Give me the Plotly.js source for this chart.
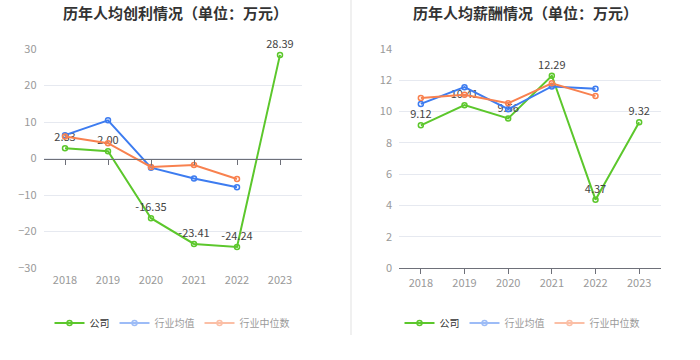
<!DOCTYPE html>
<html><head><meta charset="utf-8">
<script src="https://cdn.plot.ly/plotly-3.0.1.min.js"></script>
<style>html,body{margin:0;padding:0;background:#fff}#c{width:700px;height:360px}</style>
</head><body><div id="c"></div>
<script>
const years = ['2018','2019','2020','2021','2022','2023'];
const seriesNames = ['公司','行业均值','行业中位数'];
const profitCompany = [2.83, 2.00, -16.35, -23.41, -24.24, 28.39];
const profitAvg = [6.4, 10.45, -2.5, -5.5, -7.9, null];
const profitMedian = [6.0, 4.2, -2.3, -1.8, -5.6, null];
const salaryCompany = [9.12, 10.41, 9.56, 12.29, 4.37, 9.32];
const salaryAvg = [10.49, 11.56, 10.15, 11.61, 11.46, null];
const salaryMedian = [10.87, 11.07, 10.53, 11.81, 10.99, null];
const titles = ['历年人均创利情况（单位：万元）','历年人均薪酬情况（单位：万元）'];

const colors = ['#5cc72c','#3d7cf0','#f8814f'];
const FONT = '"Noto Sans CJK SC", "Microsoft YaHei", sans-serif';

function mk(x, y, name, color, xa, ya, legend, opts) {
  return Object.assign({
    type:'scatter', mode:'lines+markers', x:x, y:y, name:name,
    xaxis:xa, yaxis:ya, legend:legend,
    line:{color:color, width:2},
    marker:{symbol:'circle-open', size:5, color:color, line:{width:1.5, color:color}},
    connectgaps:false, cliponaxis:false, hoverinfo:'x+y+name'
  }, opts||{});
}
function lbl(v){ return v==null? '' : v.toFixed(2); }

const data = [];
data.push(mk(years, profitCompany, seriesNames[0], colors[0], 'x', 'y', 'legend',
  {mode:'lines+markers+text', text:profitCompany.map(lbl), textposition:'top center',
   textfont:{size:11, color:'#444', family:FONT}}));
data.push(mk(years, profitAvg, seriesNames[1], colors[1], 'x', 'y', 'legend', {showlegend:false}));
data.push(mk(years, profitMedian, seriesNames[2], colors[2], 'x', 'y', 'legend', {showlegend:false}));
data.push(mk(years, profitAvg, seriesNames[1], colors[1], 'x', 'y', 'legend', {visible:'legendonly'}));
data.push(mk(years, profitMedian, seriesNames[2], colors[2], 'x', 'y', 'legend', {visible:'legendonly'}));
data.push(mk(years, salaryCompany, seriesNames[0], colors[0], 'x2', 'y2', 'legend2',
  {mode:'lines+markers+text', text:salaryCompany.map(lbl), textposition:'top center',
   textfont:{size:11, color:'#444', family:FONT}}));
data.push(mk(years, salaryAvg, seriesNames[1], colors[1], 'x2', 'y2', 'legend2', {showlegend:false}));
data.push(mk(years, salaryMedian, seriesNames[2], colors[2], 'x2', 'y2', 'legend2', {showlegend:false}));
data.push(mk(years, salaryAvg, seriesNames[1], colors[1], 'x2', 'y2', 'legend2', {visible:'legendonly'}));
data.push(mk(years, salaryMedian, seriesNames[2], colors[2], 'x2', 'y2', 'legend2', {visible:'legendonly'}));
data.push({type:'scatter', mode:'markers', x:[0], y:[0], xaxis:'x3', yaxis:'y',
  marker:{opacity:0, size:1}, showlegend:false, hoverinfo:'skip'});

const yDom = [92/360, 311/360];
const tickFont = {size:11, color:'#999', family:FONT};
const legendFont = {size:10, color:'#333', family:FONT};

const layout = {
  width:700, height:360, margin:{l:0,r:0,t:0,b:0},
  paper_bgcolor:'#fff', plot_bgcolor:'#fff',
  font:{family:FONT},
  xaxis:{domain:[43.5/700, 301.5/700], type:'category', range:[-0.5,5.5],
    showgrid:false, zeroline:false, showline:false, ticks:'', tickfont:tickFont, anchor:'y', ticklabelstandoff:4},
  xaxis3:{domain:[43.5/700, 301.5/700], overlaying:'x', anchor:'free', position:(360-159)/360,
    range:[-0.5,5.5], tickvals:[0,1,2,3,4,5], showticklabels:false, ticks:'outside', ticklen:5,
    tickcolor:'#6e7079', showline:true, linecolor:'#6e7079', linewidth:1, showgrid:false, zeroline:false, fixedrange:true},
  yaxis:{domain:yDom, range:[-30,30], dtick:10, tick0:0, showgrid:true, gridcolor:'#e6e9f0',
    zeroline:false, showline:false, ticks:'', tickfont:tickFont, anchor:'x', ticklabelstandoff:6},
  xaxis2:{domain:[399/700, 661/700], type:'category', range:[-0.5,5.5],
    showgrid:false, zeroline:false, showline:true, linecolor:'#6e7079', ticks:'outside', ticklen:5,
    tickcolor:'#6e7079', tickfont:tickFont, anchor:'y2'},
  yaxis2:{domain:yDom, range:[0,14], dtick:2, tick0:0, showgrid:true, gridcolor:'#e6e9f0',
    zeroline:false, showline:false, ticks:'', tickfont:tickFont, anchor:'x2', ticklabelstandoff:6},
  legend:{orientation:'h', x:172/700, xanchor:'center', y:(360-323)/360, yanchor:'middle',
    font:legendFont, itemclick:false, itemdoubleclick:false, bgcolor:'rgba(0,0,0,0)', itemwidth:30},
  legend2:{orientation:'h', x:522/700, xanchor:'center', y:(360-323)/360, yanchor:'middle',
    font:legendFont, itemclick:false, itemdoubleclick:false, bgcolor:'rgba(0,0,0,0)', itemwidth:30},
  annotations:[
    {text:'<b>'+titles[0]+'</b>', xref:'paper', yref:'paper', x:175/700, y:(360-13)/360,
     xanchor:'center', yanchor:'middle', showarrow:false, font:{size:15, color:'#333', family:FONT}},
    {text:'<b>'+titles[1]+'</b>', xref:'paper', yref:'paper', x:525/700, y:(360-13)/360,
     xanchor:'center', yanchor:'middle', showarrow:false, font:{size:15, color:'#333', family:FONT}}
  ],
  shapes:[
    {type:'line', xref:'paper', yref:'paper', x0:351/700, x1:351/700, y0:(360-335)/360, y1:1,
     line:{color:'#f0f0f0', width:2}}
  ]
};
Plotly.newPlot('c', data, layout, {displayModeBar:false});
</script></body></html>
